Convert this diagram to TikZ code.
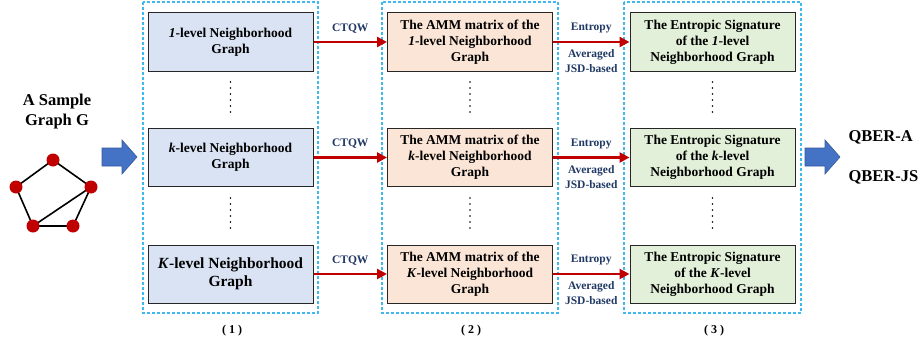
\documentclass[tikz,border=0pt]{standalone}
\usepackage{fontspec}
\setmainfont{Liberation Serif}
\usepackage{tikz}
\usetikzlibrary{arrows.meta,backgrounds}

\definecolor{fillone}{HTML}{DAE3F3}
\definecolor{filltwo}{HTML}{FBE5D6}
\definecolor{fillthree}{HTML}{E2F0D9}
\definecolor{stageline}{HTML}{3FB8EE}
\definecolor{linkred}{HTML}{C00000}
\definecolor{labelnavy}{HTML}{1F3864}
\definecolor{blockblue}{HTML}{4472C4}
\definecolor{vertexred}{HTML}{C00000}

\tikzset{
  levelbox/.style={draw=black!85, line width=1pt, minimum width=165, minimum height=58,
    align=center, inner sep=0pt, font=\fontsize{13.5}{16}\selectfont\bfseries},
  stage/.style={draw=stageline, line width=1.2pt, dash pattern=on 3pt off 2pt},
  link/.style={draw=linkred, line width=2.8pt, -{Triangle[length=10pt,width=10pt]}},
  linklabel/.style={text=labelnavy, font=\fontsize{11.5}{15}\selectfont\bfseries, align=center},
  vertex/.style={circle, fill=vertexred, minimum size=13, inner sep=0pt},
  edge/.style={draw=black, line width=1.6pt},
  bigtext/.style={font=\fontsize{16.5}{20}\selectfont\bfseries, align=center},
}

\begin{document}
\begin{tikzpicture}[x=1pt,y=-1pt]
\useasboundingbox (0,0) rectangle (920,345);

%Stages
\draw[stage] (143,2) rectangle (318,313);
\draw[stage] (382,2) rectangle (558,313);
\draw[stage] (624,2) rectangle (801,313);
\node[font=\fontsize{12}{14}\selectfont\bfseries] (s1) at (232,331) {( 1 )};
\node[font=\fontsize{12}{14}\selectfont\bfseries] (s2) at (471,331) {( 2 )};
\node[font=\fontsize{12}{14}\selectfont\bfseries] (s3) at (714,331) {( 3 )};

%Neighborhood graphs
\node[levelbox, fill=fillone] (g1) at (230.5,42) {\textit{1}-level Neighborhood\\Graph};
\node[levelbox, fill=fillone] (g2) at (230.5,157.5) {\textit{k}-level Neighborhood\\Graph};
\node[levelbox, fill=fillone, font=\fontsize{15.5}{18}\selectfont\bfseries] (g3) at (230.5,274) {\textit{K}-level Neighborhood\\Graph};

%AMM matrices
\node[levelbox, fill=filltwo] (m1) at (470,42) {The AMM matrix of the\\\textit{1}-level Neighborhood\\Graph};
\node[levelbox, fill=filltwo] (m2) at (470,157.5) {The AMM matrix of the\\\textit{k}-level Neighborhood\\Graph};
\node[levelbox, fill=filltwo] (m3) at (470,274) {The AMM matrix of the\\\textit{K}-level Neighborhood\\Graph};

%Signatures
\node[levelbox, fill=fillthree] (e1) at (712.5,42) {The Entropic Signature\\of the \textit{1}-level\\Neighborhood Graph};
\node[levelbox, fill=fillthree] (e2) at (712.5,157.5) {The Entropic Signature\\of the \textit{k}-level\\Neighborhood Graph};
\node[levelbox, fill=fillthree] (e3) at (712.5,274) {The Entropic Signature\\of the \textit{K}-level\\Neighborhood Graph};

%Dots
\foreach \cx in {230.5,470,712.5}
  \foreach \cy in {82,88,94,100,106,112,198,204,210,216,222,228}
    \fill (\cx,\cy) circle (0.9pt);

%Links
\foreach \r in {1,2,3} {
  \draw[link] (g\r) -- (m\r) node[midway, above=4pt, linklabel] {CTQW};
  \draw[link] (m\r) -- (e\r) node[midway, above=4pt, linklabel] {Entropy}
    node[midway, below=3pt, linklabel] {Averaged\\JSD-based};
}

%Sample graph
\node[bigtext] (title) at (57,112) {A Sample\\Graph G};
\node[vertex] (v1) at (53,160) {};
\node[vertex] (v2) at (16,187) {};
\node[vertex] (v3) at (91,187) {};
\node[vertex] (v4) at (33,226) {};
\node[vertex] (v5) at (73,226) {};
\begin{scope}[on background layer]
\draw[edge] (v1.center) -- (v2.center) (v1.center) -- (v3.center) (v2.center) -- (v4.center)
  (v3.center) -- (v5.center) (v4.center) -- (v5.center) (v4.center) -- (v3.center);
\end{scope}

%Block arrows
\coordinate (inarrow) at (102,157);
\coordinate (outarrow) at (805,157);
\foreach \a in {inarrow,outarrow}
  \filldraw[fill=blockblue, draw=blockblue!80!black, line width=0.6pt]
    (\a) ++(0,-9) -- ++(20,0) -- ++(0,-8) -- ++(15,17) -- ++(-15,17) -- ++(0,-8) -- ++(-20,0) -- cycle;

%Results
\node[bigtext, anchor=west] (qa) at (845,137) {QBER-A};
\node[bigtext, anchor=west] (qj) at (845,177) {QBER-JS};

\end{tikzpicture}
\end{document}
